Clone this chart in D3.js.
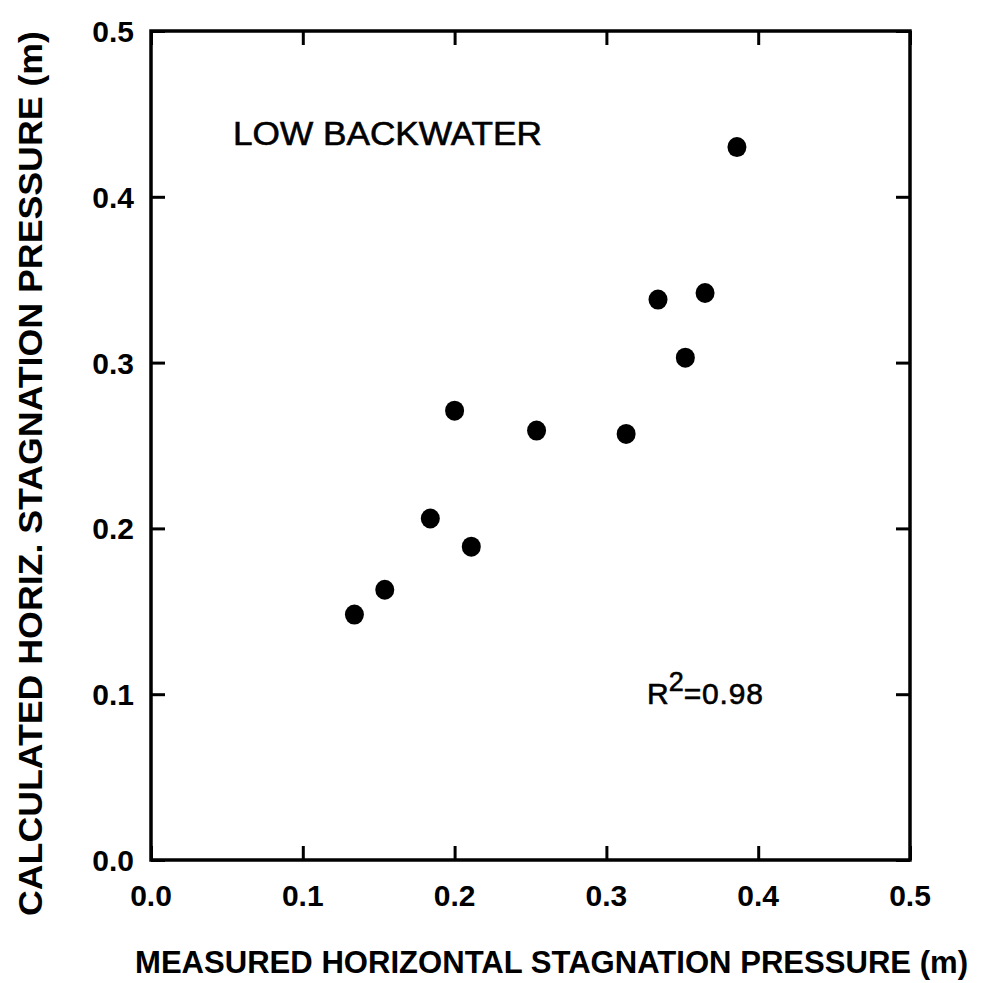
<!DOCTYPE html>
<html><head><meta charset="utf-8">
<script src="https://cdn.jsdelivr.net/npm/d3@7"></script>
<style>body{margin:0;background:#fff}svg{display:block}</style>
</head><body>
<svg id="c" width="990" height="983"></svg>
<script>
const measured   = [0.134, 0.154, 0.184, 0.211, 0.200, 0.254, 0.313, 0.334, 0.365, 0.352, 0.386];
const calculated = [0.148, 0.163, 0.206, 0.189, 0.271, 0.259, 0.257, 0.338, 0.342, 0.303, 0.430];
const tickValues = [0.0, 0.1, 0.2, 0.3, 0.4, 0.5];
const xTitle = "MEASURED HORIZONTAL STAGNATION PRESSURE (m)";
const yTitle = "CALCULATED HORIZ. STAGNATION PRESSURE (m)";
const panelLabel = "LOW BACKWATER";
const r2Value = "0.98";

const svg = d3.select("#c");
const L = 151, R = 910, T = 31, B = 860;
const x = d3.scaleLinear().domain([0, 0.5]).range([L, R]);
const y = d3.scaleLinear().domain([0, 0.5]).range([B, T]);
const fmt = d3.format(".1f");
const font = "Liberation Sans, Arial, sans-serif";

// Axes: ticks pointing inward on all sides
const tk = 14;
const gB = svg.append("g").attr("transform", `translate(0,${B})`)
  .call(d3.axisTop(x).tickValues(tickValues).tickSize(tk).tickFormat(""));
const gT = svg.append("g").attr("transform", `translate(0,${T})`)
  .call(d3.axisBottom(x).tickValues(tickValues).tickSize(tk).tickFormat(""));
const gL = svg.append("g").attr("transform", `translate(${L},0)`)
  .call(d3.axisRight(y).tickValues(tickValues).tickSize(tk).tickFormat(""));
const gR = svg.append("g").attr("transform", `translate(${R},0)`)
  .call(d3.axisLeft(y).tickValues(tickValues).tickSize(tk).tickFormat(""));
[gB, gT, gL, gR].forEach(g => {
  g.select(".domain").remove();
  g.selectAll(".tick line").attr("stroke", "#000").attr("stroke-width", 3);
});
svg.append("rect").attr("x", L).attr("y", T).attr("width", R - L).attr("height", B - T)
  .attr("fill", "none").attr("stroke", "#000").attr("stroke-width", 3.5);

// Tick labels
svg.append("g").selectAll("text").data(tickValues).join("text")
  .attr("x", d => x(d)).attr("y", 906).attr("text-anchor", "middle")
  .attr("font-family", font).attr("font-weight", "bold").attr("font-size", 30)
  .text(fmt);
svg.append("g").selectAll("text").data(tickValues).join("text")
  .attr("x", 134).attr("y", d => y(d) + 11).attr("text-anchor", "end")
  .attr("font-family", font).attr("font-weight", "bold").attr("font-size", 30)
  .text(fmt);

// Axis titles
svg.append("text").attr("x", 135).attr("y", 973)
  .attr("font-family", font).attr("font-weight", "bold").attr("font-size", 31)
  .attr("textLength", 833).attr("lengthAdjust", "spacingAndGlyphs")
  .text(xTitle);
svg.append("text").attr("transform", "translate(42,916) rotate(-90)")
  .attr("font-family", font).attr("font-weight", "bold").attr("font-size", 33)
  .attr("textLength", 885).attr("lengthAdjust", "spacingAndGlyphs")
  .text(yTitle);

// Annotations
svg.append("text").attr("x", 233).attr("y", 145)
  .attr("font-family", font).attr("font-size", 33)
  .attr("stroke", "#000").attr("stroke-width", 0.6)
  .attr("textLength", 309).attr("lengthAdjust", "spacingAndGlyphs")
  .text(panelLabel);
const r2 = svg.append("text").attr("x", 647).attr("y", 704)
  .attr("font-family", font).attr("font-size", 30)
  .attr("stroke", "#000").attr("stroke-width", 0.6);
r2.append("tspan").text("R");
r2.append("tspan").attr("dy", -13).attr("font-size", 27).text("2");
r2.append("tspan").attr("dy", 13).attr("letter-spacing", 0.8).text("=" + r2Value);

// Points
svg.append("g").selectAll("ellipse").data(measured).join("ellipse")
  .attr("cx", (d) => x(d)).attr("cy", (d, i) => y(calculated[i]))
  .attr("rx", 9.5).attr("ry", 10).attr("fill", "#000");
</script>
</body></html>
